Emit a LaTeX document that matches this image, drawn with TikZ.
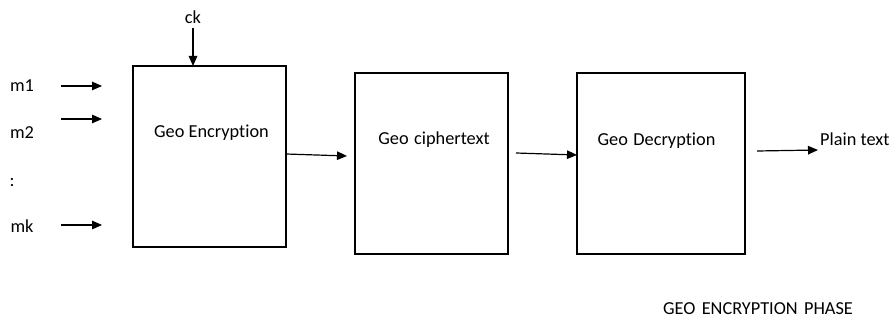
\documentclass[tikz,border=0pt]{standalone}
\usepackage{fontspec}
\setmainfont{Carlito}[Ligatures=NoCommon]
\usetikzlibrary{arrows.meta}
\begin{document}
\begin{tikzpicture}[x=1pt,y=-1pt,
  blk/.style={draw,line width=1.1pt,rectangle},
  lbl/.style={font=\fontsize{18.3}{20}\selectfont,inner sep=0pt,anchor=base},
  arr/.style={line width=1.2pt,-{Triangle[length=10pt,width=8.5pt]}}]
\useasboundingbox (0,0) rectangle (891,320);
\draw[blk] (133,66) rectangle (286,247);
\draw[blk] (355,73) rectangle (508,254);
\draw[blk] (577,73) rectangle (745,254);
\coordinate (b1t) at (193,66);
\node[lbl] (ck) at (193,24) {ck};
\node[lbl] (m1) at (22,92) {m1};
\node[lbl] (m2) at (22,139) {m2};
\node[lbl] (dots) at (12,187) {:};
\node[lbl] (mk) at (22,233) {mk};
\node[lbl] (enc) at (211.5,138) {Geo Encryption};
\node[lbl] (ct) at (434,145) {Geo\hspace{0.3em}ciphertext};
\node[lbl] (dec) at (656.5,146) {Geo\hspace{0.3em}Decryption};
\node[lbl,anchor=base west] (pt) at (820,146) {Plain text};
\node[lbl] (phase) at (758,314) {GEO\hspace{0.35em}ENCRYPTION\hspace{0.35em}PHASE};
\coordinate (a1s) at (61,86); \coordinate (a1e) at (102,86);
\coordinate (a2s) at (61,119); \coordinate (a2e) at (102,119);
\coordinate (a3s) at (61,225); \coordinate (a3e) at (102,225);
\coordinate (cks) at (193,28);
\coordinate (e1s) at (286,154); \coordinate (e1e) at (347,156);
\coordinate (e2s) at (516,153); \coordinate (e2e) at (577,155);
\coordinate (e3s) at (757,151); \coordinate (e3e) at (818,150);
\draw[arr] (a1s) -- (a1e);
\draw[arr] (a2s) -- (a2e);
\draw[arr] (a3s) -- (a3e);
\draw[arr] (cks) -- (b1t);
\draw[arr] (e1s) -- (e1e);
\draw[arr] (e2s) -- (e2e);
\draw[arr] (e3s) -- (e3e);
\end{tikzpicture}
\end{document}
